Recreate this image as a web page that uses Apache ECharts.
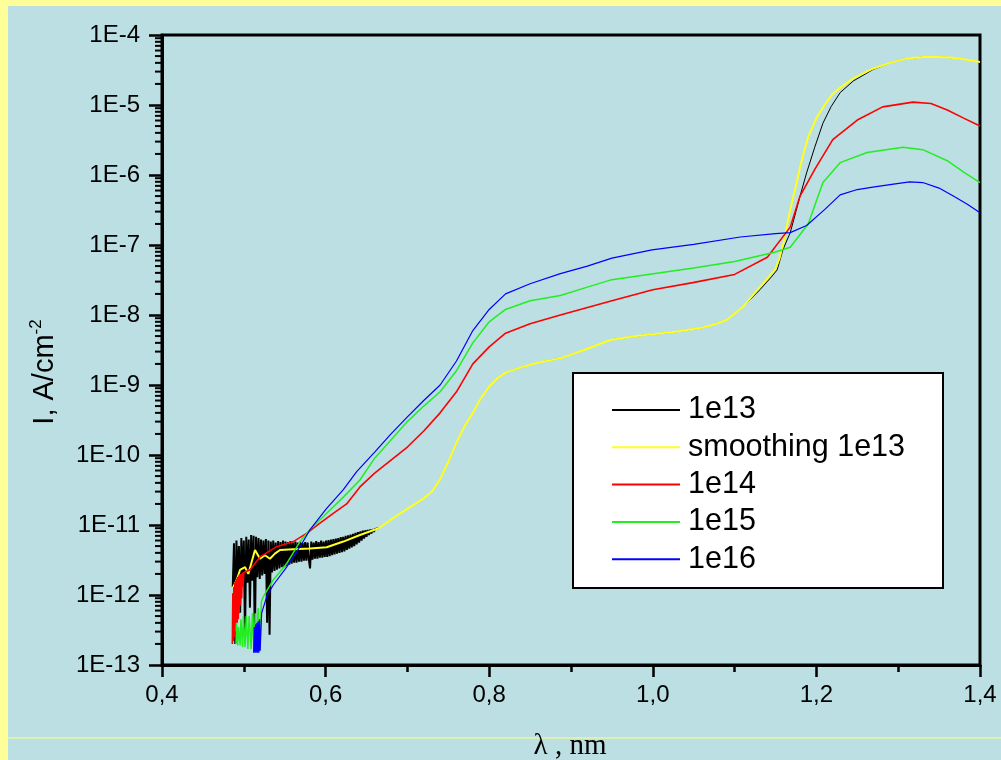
<!DOCTYPE html>
<html><head><meta charset="utf-8">
<script src="https://cdn.jsdelivr.net/npm/echarts@6/dist/echarts.min.js"></script>
<style>html,body{margin:0;padding:0;background:#bbdfe2}#c{width:1001px;height:760px}</style>
</head><body><div id="c"></div>
<script>
// ---- data ----
const seriesNames = ['1e13', 'smoothing 1e13', '1e14', '1e15', '1e16'];
const xTicks = ['0,4', '0,6', '0,8', '1,0', '1,2', '1,4'];
const yTicks = ['1E-13','1E-12','1E-11','1E-10','1E-9','1E-8','1E-7','1E-6','1E-5','1E-4'];

// 1e13 : noisy low-wavelength part
const x13n = [0.4865,0.4880,0.4895,0.4910,0.4925,0.4940,0.4955,0.4970,0.4985,0.5000,0.5015,0.5030,0.5045,0.5060,0.5075,0.5090,0.5105,0.5120,0.5135,0.5150,0.5165,0.5180,0.5195,0.5210,0.5225,0.5240,0.5255,0.5270,0.5285,0.5300,0.5315,0.5330,0.5345,0.5360,0.5375,0.5390,0.5405,0.5420,0.5435,0.5450,0.5465,0.5480,0.5495,0.5510,0.5525,0.5540,0.5555,0.5570,0.5585,0.5600,0.5615,0.5630,0.5645,0.5660,0.5675,0.5690,0.5705,0.5720,0.5735,0.5750,0.5765,0.5780,0.5795,0.5810,0.5825,0.5840,0.5855,0.5870,0.5885,0.5900,0.5915,0.5930,0.5945,0.5960,0.5975,0.5990,0.6005,0.6020,0.6035,0.6050,0.6065,0.6080,0.6095,0.6110,0.6125,0.6140,0.6155,0.6170,0.6185,0.6200,0.6215,0.6230,0.6245,0.6260,0.6275,0.6290,0.6305,0.6320,0.6335,0.6350,0.6365,0.6380,0.6395,0.6410,0.6425,0.6440,0.6455,0.6470,0.6485,0.6500,0.6515,0.6530,0.6545,0.6560,0.6575,0.6590,0.6605,0.665];
const y13n = [1.3e-12,5.5e-12,2e-13,6e-12,1.2e-12,5e-12,5.6e-13,6.5e-12,1.4e-12,6e-12,2.4e-13,6.8e-12,1.5e-12,6.2e-12,6.6e-13,7.2e-12,1.6e-12,7e-12,2e-13,6.8e-12,1.8e-12,6.5e-12,1.7e-12,6.2e-12,1.9e-12,6e-12,2e-12,6.3e-12,4e-13,6e-12,2.7e-13,5.8e-12,2.1e-12,6e-12,2.2e-12,5.6e-12,2.3e-12,5.9e-12,2.4e-12,5.7e-12,2.5e-12,6e-12,2.5e-12,5.8e-12,2.6e-12,5.7e-12,2.7e-12,5.9e-12,2.8e-12,5.6e-12,2.9e-12,5.8e-12,2.9e-12,5.6e-12,3e-12,5.8e-12,3e-12,5.5e-12,3.1e-12,5.7e-12,3.1e-12,5.6e-12,3.2e-12,2.4e-12,5.8e-12,3.2e-12,5.6e-12,3.3e-12,5.9e-12,3.3e-12,5.7e-12,3.4e-12,6e-12,3.4e-12,5.8e-12,3.5e-12,6e-12,3.5e-12,6.1e-12,3.6e-12,6.2e-12,3.7e-12,6.3e-12,3.8e-12,6.4e-12,3.9e-12,6.5e-12,4e-12,6.7e-12,4.1e-12,6.8e-12,4.2e-12,7e-12,4.4e-12,7.1e-12,4.6e-12,7.3e-12,4.8e-12,7.5e-12,5e-12,7.7e-12,5.3e-12,7.9e-12,5.6e-12,8.1e-12,6e-12,8.3e-12,6.4e-12,8.4e-12,6.8e-12,8.5e-12,7.2e-12,8.6e-12,7.6e-12,8.7e-12,8e-12,8.8e-12,9e-12];
// 1e13 : rest of the curve
const x13 = [0.665,0.68,0.70,0.72,0.73,0.74,0.75,0.76,0.77,0.78,0.79,0.80,0.81,0.82,0.84,0.86,0.887,0.92,0.948,0.98,1.0,1.03,1.058,1.075,1.09,1.11,1.131,1.145,1.152,1.159,1.168,1.175,1.18,1.188,1.198,1.208,1.218,1.229,1.245,1.269,1.29,1.31,1.335,1.36,1.38,1.4];
const y13 = [9e-12,1.2e-11,1.7e-11,2.4e-11,3e-11,4.5e-11,8e-11,1.5e-10,2.6e-10,4e-10,6.5e-10,9.5e-10,1.25e-9,1.5e-9,1.8e-9,2.1e-9,2.4e-9,3.3e-9,4.4e-9,5e-9,5.3e-9,5.8e-9,6.5e-9,7.3e-9,8.5e-9,1.3e-8,2.3e-8,3.5e-8,4.4e-8,8.5e-8,1.5e-7,3e-7,5e-7,1.07e-6,2.5e-6,5.5e-6,9.5e-6,1.5e-5,2.2e-5,3.2e-5,4e-5,4.6e-5,4.9e-5,4.8e-5,4.5e-5,4.1e-5];

const xSm = [0.4864,0.4913,0.4954,0.5015,0.5055,0.5137,0.5198,0.5259,0.532,0.538,0.5443,0.5605,0.581,0.6013,0.6217,0.642,0.665,0.68,0.70,0.72,0.73,0.74,0.75,0.76,0.77,0.78,0.79,0.80,0.81,0.82,0.84,0.86,0.887,0.92,0.948,0.98,1.0,1.03,1.058,1.075,1.09,1.11,1.128,1.14,1.15,1.155,1.16,1.165,1.17,1.175,1.18,1.185,1.19,1.2,1.21,1.22,1.23,1.245,1.269,1.29,1.31,1.335,1.36,1.38,1.4];
const ySm = [1.25e-12,1.64e-12,2.28e-12,2.5e-12,2e-12,4.4e-12,3.3e-12,3.7e-12,3.3e-12,3.9e-12,4.4e-12,4.5e-12,4.6e-12,4.8e-12,5.8e-12,7.2e-12,9e-12,1.2e-11,1.7e-11,2.4e-11,3e-11,4.5e-11,8e-11,1.5e-10,2.6e-10,4e-10,6.5e-10,9.5e-10,1.25e-9,1.5e-9,1.8e-9,2.1e-9,2.4e-9,3.3e-9,4.4e-9,5e-9,5.3e-9,5.8e-9,6.5e-9,7.3e-9,8.5e-9,1.3e-8,2.3e-8,3.3e-8,4.6e-8,6.5e-8,1.1e-7,2.2e-7,4e-7,7e-7,1.3e-6,2.2e-6,3.5e-6,6.5e-6,1e-5,1.45e-5,1.8e-5,2.4e-5,3.3e-5,4e-5,4.6e-5,4.9e-5,4.8e-5,4.5e-5,4.1e-5];

const x14 = [0.486,0.4866,0.4872,0.4878,0.4884,0.489,0.4896,0.4902,0.4908,0.4914,0.492,0.4926,0.4932,0.4938,0.4944,0.495,0.4958,0.4966,0.4974,0.4982,0.499,0.500,0.5074,0.5198,0.5402,0.5605,0.5768,0.5931,0.6094,0.6257,0.642,0.66,0.70,0.72,0.74,0.76,0.78,0.80,0.82,0.85,0.887,0.95,1.0,1.049,1.1,1.14,1.168,1.18,1.198,1.22,1.25,1.281,1.318,1.34,1.36,1.38,1.4];
const y14 = [2e-13,1.06e-12,2.2e-13,1.3e-12,2.5e-13,1.5e-12,3e-13,1.6e-12,3.5e-13,1.7e-12,4e-13,1.8e-12,4.5e-13,1.9e-12,5.5e-13,2e-12,7e-13,2e-12,9e-13,2.1e-12,1.3e-12,2.1e-12,2.28e-12,3.5e-12,4.9e-12,5.8e-12,7.6e-12,1.06e-11,1.47e-11,2e-11,3.5e-11,5.5e-11,1.3e-10,2.2e-10,4e-10,8e-10,2e-9,3.5e-9,5.5e-9,7.5e-9,1e-8,1.6e-8,2.3e-8,2.9e-8,3.8e-8,6.7e-8,1.8e-7,5e-7,1.2e-6,3.2e-6,6.1e-6,9.4e-6,1.1e-5,1.05e-5,8.5e-6,6.5e-6,5e-6];

const x15 = [0.4905,0.491,0.4925,0.4935,0.4955,0.4965,0.4985,0.4995,0.5015,0.503,0.505,0.5065,0.509,0.5105,0.5125,0.514,0.516,0.5175,0.5195,0.5215,0.5239,0.536,0.5524,0.5687,0.581,0.6013,0.6217,0.642,0.66,0.70,0.72,0.74,0.76,0.78,0.80,0.82,0.85,0.887,0.92,0.95,1.009,1.05,1.1,1.149,1.168,1.19,1.208,1.229,1.262,1.306,1.33,1.36,1.38,1.4];
const y15 = [2e-13,4e-13,1.9e-13,3.5e-13,1.9e-13,4.5e-13,1.8e-13,5e-13,1.8e-13,5e-13,1.7e-13,5e-13,1.7e-13,5.5e-13,1.7e-13,5.5e-13,1.6e-13,6.5e-13,1.6e-13,8e-13,9.5e-13,1.64e-12,2.8e-12,5.8e-12,8.6e-12,1.47e-11,2.5e-11,4.4e-11,9e-11,3e-10,5e-10,8e-10,1.6e-9,4e-9,8e-9,1.2e-8,1.6e-8,1.9e-8,2.5e-8,3.2e-8,4e-8,4.7e-8,5.8e-8,7.9e-8,9.3e-8,2e-7,7.8e-7,1.5e-6,2.1e-6,2.5e-6,2.3e-6,1.6e-6,1.1e-6,7.8e-7];

const x16 = [0.512,0.5128,0.5136,0.5144,0.5152,0.516,0.5168,0.5176,0.5184,0.5192,0.520,0.5218,0.528,0.536,0.5524,0.5687,0.581,0.6013,0.6217,0.638,0.66,0.68,0.70,0.72,0.74,0.76,0.78,0.80,0.82,0.85,0.887,0.92,0.95,0.999,1.05,1.107,1.15,1.168,1.188,1.21,1.229,1.25,1.269,1.29,1.314,1.33,1.35,1.37,1.385,1.4];
const y16 = [1.5e-13,3.5e-13,1.5e-13,3.8e-13,1.5e-13,4e-13,1.5e-13,4.2e-13,1.5e-13,4.5e-13,1.6e-13,5.5e-13,9.5e-13,1.39e-12,2.5e-12,4.9e-12,8.6e-12,1.73e-11,3.2e-11,5.8e-11,1.1e-10,2e-10,3.5e-10,6e-10,1e-9,2.2e-9,6e-9,1.2e-8,2e-8,2.8e-8,3.9e-8,5e-8,6.5e-8,8.5e-8,1.02e-7,1.3e-7,1.45e-7,1.5e-7,1.9e-7,3.2e-7,5.2e-7,6.2e-7,6.7e-7,7.3e-7,8e-7,7.8e-7,6.5e-7,4.8e-7,3.8e-7,2.9e-7];

const seriesColors = ['#000000', '#ffff22', '#ff0000', '#22ee22', '#0000ff'];
const seriesWidths = [1, 2, 1.6, 1.5, 1.2];

// minor tick positions for the log axis (2..9 in each decade)
const yMinor = [];
for (let e = -13; e <= -5; e++) for (let m = 2; m <= 9; m++) yMinor.push(m * Math.pow(10, e));

const zip = (xs, ys) => xs.map((x, i) => [x, ys[i]]);
const allX = [x13, xSm, x14, x15, x16];
const allY = [y13, ySm, y14, y15, y16];

const chart = echarts.init(document.getElementById('c'));
const FONT = 'Liberation Sans, Arial, sans-serif';

const mk = (name, data, color, width, z) => ({
  name, type: 'line', data, showSymbol: false, symbol: 'none', animation: false,
  lineStyle: { color, width }, itemStyle: { color }, z
});
const lineSeries = [mk(seriesNames[0], zip(x13n, y13n), seriesColors[0], 2, 2)].concat(
  seriesNames.map((n, i) => mk(n, zip(allX[i], allY[i]), seriesColors[i], seriesWidths[i], 3 + i)));

chart.setOption({
  backgroundColor: '#bbdfe2',
  animation: false,
  grid: { left: 162, right: 21, top: 35, bottom: 95, show: true, borderColor: '#000', borderWidth: 3, backgroundColor: 'transparent' },
  xAxis: {
    type: 'value', min: 0.4, max: 1.4, interval: 0.2,
    axisLine: { lineStyle: { color: '#000', width: 3 } },
    axisTick: { length: 12, lineStyle: { color: '#000', width: 2.5 } },
    minorTick: { show: true, splitNumber: 2, length: 7, lineStyle: { color: '#000', width: 2.5 } },
    splitLine: { show: false },
    axisLabel: { color: '#000', fontFamily: FONT, fontSize: 24, margin: 18,
      formatter: v => xTicks[Math.round((v - 0.4) / 0.2)] }
  },
  yAxis: {
    type: 'log', logBase: 10, min: 1e-13, max: 1e-4, interval: 1,
    axisLine: { lineStyle: { color: '#000', width: 3 } },
    axisTick: { length: 13, lineStyle: { color: '#000', width: 2.5 } },
    splitLine: { show: false },
    axisLabel: { color: '#000', fontFamily: FONT, fontSize: 24, margin: 22,
      formatter: v => yTicks[Math.round(Math.log10(v)) + 13] }
  },
  legend: {
    data: seriesNames, orient: 'vertical', left: 607, top: 389.5,
    icon: 'rect', itemWidth: 68, itemHeight: 2, itemGap: 6.3, z: 10,
    textStyle: { color: '#000', fontFamily: FONT, fontSize: 30.5, lineHeight: 31, padding: [0, 0, 0, 3] }
  },
  graphic: [
    { type: 'rect', shape: { x: 0, y: 0, width: 1001, height: 6 }, style: { fill: '#ffff99' }, z: 1 },
    { type: 'rect', shape: { x: 0, y: 0, width: 8, height: 760 }, style: { fill: '#ffff99' }, z: 1 },
    { type: 'rect', shape: { x: 8, y: 737.5, width: 993, height: 1 }, style: { fill: '#ffff88' }, z: 1 },
    { type: 'rect', shape: { x: 573, y: 373, width: 370, height: 215 }, style: { fill: '#fff', stroke: '#000', lineWidth: 2 }, z: 8 },
    { type: 'text', x: 45, y: 372, rotation: Math.PI / 2, z: 8,
      style: { text: '{a|I, A/cm}{b|-2}', align: 'center', verticalAlign: 'middle',
        rich: { a: { fontFamily: FONT, fontSize: 29, lineHeight: 34, fill: '#000' },
                b: { fontFamily: FONT, fontSize: 17, lineHeight: 18, verticalAlign: 'top', fill: '#000' } } } },
    { type: 'text', x: 570, y: 746, z: 8,
      style: { text: 'λ , nm', align: 'center', verticalAlign: 'middle', fontFamily: 'Liberation Serif, Times New Roman, serif', fontSize: 29, fill: '#000' } }
  ],
  series: lineSeries.concat([{
    type: 'custom', coordinateSystem: 'cartesian2d', silent: true, clip: false, z: 20,
    data: yMinor.map(v => [0.4, v]),
    renderItem: (params, api) => {
      const p = api.coord([api.value(0), api.value(1)]);
      return { type: 'line', shape: { x1: p[0] - 7, y1: p[1], x2: p[0], y2: p[1] }, style: { stroke: '#000', lineWidth: 2 } };
    }
  }])
});
</script></body></html>
